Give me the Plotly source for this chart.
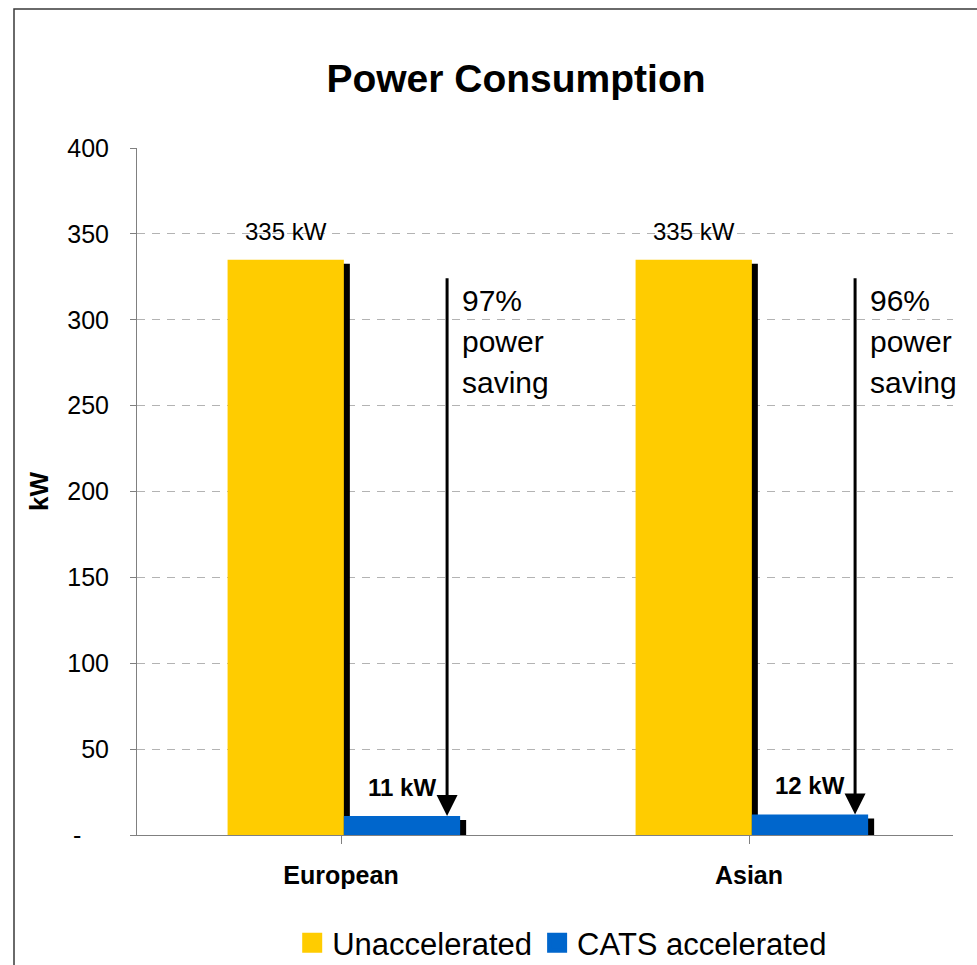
import plotly.graph_objects as go

# ---- data -------------------------------------------------------------
regions = ["European", "Asian"]
unaccelerated_kw = [335, 335]
cats_kw = [11, 12]
y_ticks = [0, 50, 100, 150, 200, 250, 300, 350, 400]
y_tick_text = ["-\u00a0\u00a0\u00a0\u00a0", "50", "100", "150", "200", "250", "300", "350", "400"]

# ---- style / layout constants -----------------------------------------
FONT = "Liberation Sans, Arial, sans-serif"
YELLOW = "#FFCC00"
BLUE = "#0066CC"
W, H = 977, 965
M_L, M_R, M_T, M_B = 137, 24, 148, 130
PLOT_W = W - M_L - M_R
PLOT_H = H - M_T - M_B
Y_MAX = 400

BAR_W = 0.285                       # width of one bar in category units
GROUP_SHIFT = 0.007                 # split between the pair, right of centre
SHADOW_DX = 6 / (PLOT_W / len(regions))   # 6 px to the right
SHADOW_DY = 4 / (PLOT_H / Y_MAX)          # 4 px down
ARROW_OFFSET = 0.26                 # arrow position relative to category centre
ARROW_TOP = 325                     # arrow tail height (kW)
LINE_GAP = 41                       # px between lines of the saving note

xs = list(range(len(regions)))
off_u = -BAR_W + GROUP_SHIFT
off_c = GROUP_SHIFT

fig = go.Figure()

# drop shadows (drawn first so the bars sit on top)
for vals, off in [(unaccelerated_kw, off_u + SHADOW_DX), (cats_kw, off_c + SHADOW_DX)]:
    fig.add_trace(go.Bar(
        x=xs, y=vals, base=[-SHADOW_DY] * len(vals), offset=off, width=BAR_W,
        marker=dict(color="black", line=dict(width=0)),
        showlegend=False, hoverinfo="skip"))

fig.add_trace(go.Bar(
    x=xs, y=unaccelerated_kw, offset=off_u, width=BAR_W, name="Unaccelerated",
    marker=dict(color=YELLOW, line=dict(width=0)), showlegend=False))
fig.add_trace(go.Bar(
    x=xs, y=cats_kw, offset=off_c, width=BAR_W, name="CATS accelerated",
    marker=dict(color=BLUE, line=dict(width=0)), showlegend=False))

# legend entries with large square swatches
for name, col in [("Unaccelerated", YELLOW), ("CATS accelerated", BLUE)]:
    fig.add_trace(go.Scatter(
        x=[None], y=[None], mode="markers", name=name,
        marker=dict(symbol="square", size=20, color=col,
                    line=dict(color=col, width=4))))

annotations = []
for i in xs:
    u, c = unaccelerated_kw[i], cats_kw[i]
    # value labels
    annotations.append(dict(
        x=i + off_u + BAR_W / 2, y=u, xref="x", yref="y", text=f"{u} kW",
        showarrow=False, yanchor="middle", yshift=28,
        font=dict(family=FONT, size=24, color="black")))
    annotations.append(dict(
        x=i + off_c + BAR_W / 2, y=c, xref="x", yref="y", text=f"<b>{c} kW</b>",
        showarrow=False, yanchor="middle", yshift=29,
        font=dict(family=FONT, size=24, color="black")))
    # saving arrow
    annotations.append(dict(
        x=i + ARROW_OFFSET, y=c, xref="x", yref="y",
        ax=i + ARROW_OFFSET, ay=ARROW_TOP, axref="x", ayref="y",
        text="", showarrow=True, arrowhead=2, arrowsize=1.4,
        arrowwidth=3, arrowcolor="black", standoff=0, startstandoff=0))
    saving = round((1 - c / u) * 100)
    for k, line in enumerate([f"{saving}%", "power", "saving"]):
        annotations.append(dict(
            x=i + ARROW_OFFSET, y=ARROW_TOP, xref="x", yref="y",
            text=line, showarrow=False, xanchor="left", yanchor="middle",
            xshift=13, yshift=-(24 + LINE_GAP * k),
            font=dict(family=FONT, size=30, color="black")))

fig.update_layout(
    width=W, height=H,
    margin=dict(l=M_L, r=M_R, t=M_T, b=M_B, autoexpand=False),
    paper_bgcolor="white", plot_bgcolor="white",
    barmode="overlay",
    font=dict(family=FONT, color="black"),
    title=dict(text="<b>Power Consumption</b>", x=516 / W, xref="container",
               xanchor="center", y=1 - 78 / H, yref="container", yanchor="middle",
               font=dict(family=FONT, size=39, color="black")),
    xaxis=dict(
        range=[-0.5, len(regions) - 0.5], tickvals=xs, ticktext=[f"<b>{r}</b>" for r in regions],
        tickson="boundaries", ticks="outside", ticklen=8, tickcolor="#808080",
        showline=True, linecolor="#808080", linewidth=1, showgrid=False,
        zeroline=False, ticklabelstandoff=10,
        tickfont=dict(family=FONT, size=25, color="black")),
    yaxis=dict(
        range=[0, Y_MAX], tickvals=y_ticks, ticktext=y_tick_text,
        ticks="outside", ticklen=6, tickcolor="#808080",
        showline=True, linecolor="#808080", linewidth=1,
        showgrid=True, gridcolor="#b3b3b3", gridwidth=1, griddash="8px,7px",
        zeroline=False, ticklabelstandoff=16,
        tickfont=dict(family=FONT, size=25, color="black")),
    legend=dict(orientation="h", x=(302 - M_L) / PLOT_W - 0.012, xanchor="left",
                y=(M_T + PLOT_H - 943) / PLOT_H, yanchor="middle",
                font=dict(family=FONT, size=31, color="black"),
                bgcolor="rgba(0,0,0,0)", itemclick=False),
    annotations=annotations,
    shapes=[dict(type="rect", xref="paper", yref="paper",
                 x0=(14 - M_L) / PLOT_W, x1=1.2,
                 y0=-0.4, y1=(M_T + PLOT_H - 9) / PLOT_H,
                 line=dict(color="#3a3a3a", width=1.5), fillcolor="rgba(0,0,0,0)",
                 layer="below")],
    showlegend=True,
)
fig.update_yaxes(title=dict(text="<b>kW</b>", standoff=11,
                            font=dict(family=FONT, size=26, color="black")))

fig.write_html("out.html")
